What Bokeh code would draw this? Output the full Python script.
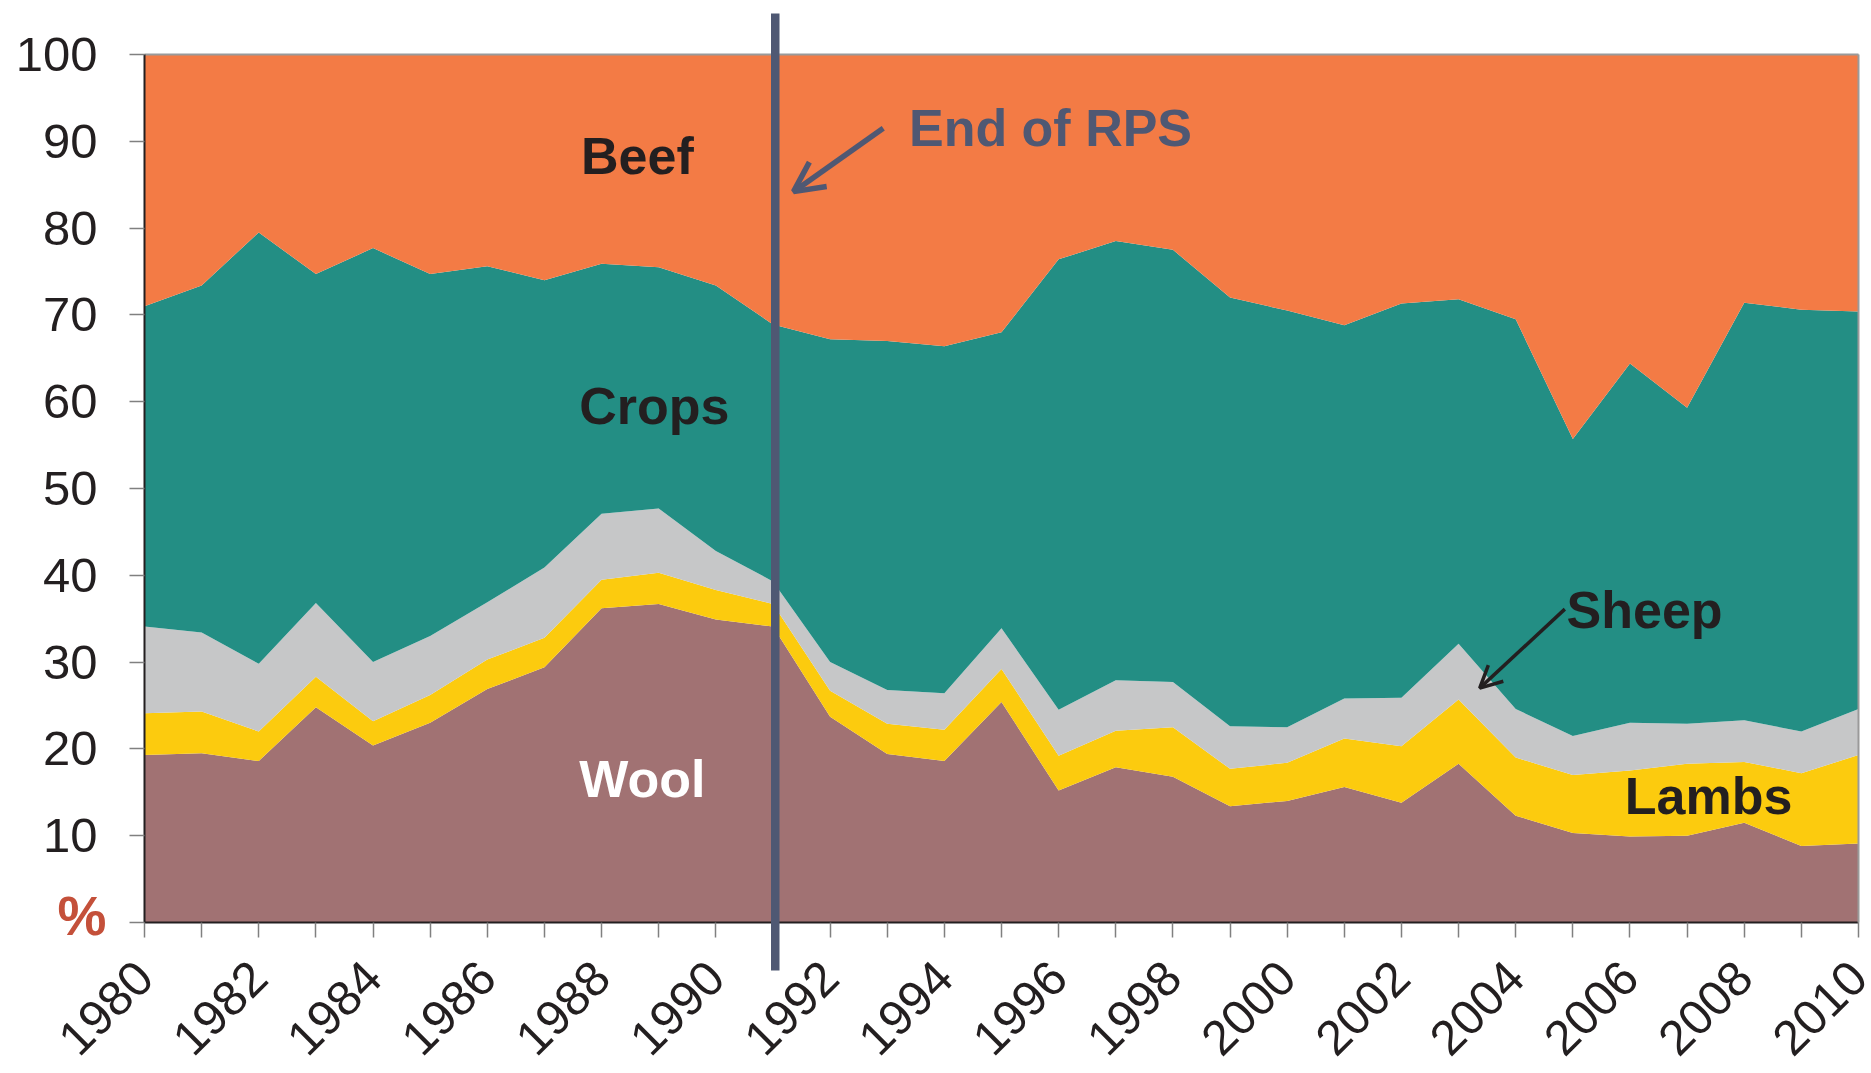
import math
from bokeh.plotting import figure
from bokeh.models import (Range1d, FixedTicker, Arrow, OpenHead, Label, ColumnDataSource,
                          LinearAxis)
from bokeh.embed import file_html
from bokeh.resources import INLINE

# ---------------- data (share of farm revenue, %) ----------------
years = list(range(1980, 2011))
wool = [19.3, 19.5, 18.6, 24.8, 20.4, 23.0, 26.9, 29.4, 36.2, 36.7, 34.9,
        34.1, 23.7, 19.4, 18.6, 25.4, 15.2, 17.9, 16.8, 13.4, 14.0,
        15.6, 13.8, 18.3, 12.3, 10.3, 9.9, 10.0, 11.5, 8.8, 9.1]
lambs = [4.8, 4.8, 3.4, 3.5, 2.8, 3.2, 3.4, 3.4, 3.3, 3.6, 3.4,
         2.6, 3.0, 3.5, 3.6, 3.8, 4.0, 4.2, 5.7, 4.3, 4.4,
         5.6, 6.5, 7.4, 6.7, 6.7, 7.6, 8.3, 7.0, 8.4, 10.2]
sheep = [10.0, 9.1, 7.8, 8.5, 6.8, 6.8, 6.6, 8.1, 7.6, 7.4, 4.5,
         2.6, 3.3, 3.9, 4.2, 4.7, 5.3, 5.8, 5.2, 4.9, 4.1,
         4.6, 5.6, 6.4, 5.6, 4.5, 5.5, 4.6, 4.8, 4.8, 5.3]
crops = [36.9, 40.0, 49.7, 37.9, 47.7, 41.7, 38.7, 33.1, 28.8, 27.8, 30.6,
         29.6, 37.2, 40.2, 40.0, 34.1, 51.9, 50.6, 49.8, 49.4, 48.0,
         43.0, 45.4, 39.7, 44.9, 34.2, 41.4, 36.4, 48.1, 48.6, 45.8]
beef = [29.0, 26.6, 20.5, 25.3, 22.3, 25.3, 24.4, 26.0, 24.1, 24.5, 26.6,
        31.1, 32.8, 33.0, 33.6, 32.0, 23.6, 21.5, 22.5, 28.0, 29.5,
        31.2, 28.7, 28.2, 30.5, 44.3, 35.6, 40.7, 28.6, 29.4, 29.6]

series_names = ["Wool", "Lambs", "Sheep", "Crops", "Beef"]
series_colors = ["#A17273", "#FCCB0E", "#C6C7C8", "#238E84", "#F37B45"]
y_ticks = list(range(0, 101, 10))
x_ticks = years
rps_end_year = 1991.04

source = ColumnDataSource(dict(year=years, Wool=wool, Lambs=lambs,
                               Sheep=sheep, Crops=crops, Beef=beef))

TXT = "#231f20"
FONT = "Liberation Sans"
GREY = "#9a9a9a"
X0, X1 = years[0], years[-1]

# The frame covers the whole canvas; axes are placed at data positions.
p = figure(width=1871, height=1073, output_backend="svg", toolbar_location=None,
           x_range=Range1d(1977.4796, 2010.2275), y_range=Range1d(-17.396, 106.221),
           min_border=0)
p.background_fill_color = "white"
p.border_fill_color = "white"
p.outline_line_color = None
p.xgrid.visible = False
p.ygrid.visible = False

p.varea_stack(stackers=series_names, x="year", color=series_colors, source=source)

# y axis at x = 1980
p.yaxis.fixed_location = X0
p.yaxis.ticker = FixedTicker(ticks=y_ticks)
p.yaxis.bounds = (0, 100)
p.yaxis.major_label_overrides = {0: ""}
p.yaxis.major_label_text_font = FONT
p.yaxis.major_label_text_font_size = "49px"
p.yaxis.major_label_text_color = TXT
p.yaxis.major_label_standoff = 32
p.yaxis.major_tick_out = 15
p.yaxis.major_tick_in = 0
p.yaxis.major_tick_line_color = "#808080"
p.yaxis.major_tick_line_width = 1.5
p.yaxis.minor_tick_line_color = None
p.yaxis.axis_line_color = TXT
p.yaxis.axis_line_width = 2

# x axis at y = 0
p.xaxis.fixed_location = 0
p.xaxis.bounds = (X0, X1)
p.xaxis.ticker = FixedTicker(ticks=x_ticks)
p.xaxis.major_label_overrides = {y: ("" if y % 2 else str(y)) for y in years}
p.xaxis.major_label_orientation = math.pi / 4
p.xaxis.major_label_text_font = FONT
p.xaxis.major_label_text_font_size = "49px"
p.xaxis.major_label_text_color = TXT
p.xaxis.major_label_standoff = 32
p.xaxis.major_tick_out = 15
p.xaxis.major_tick_in = 0
p.xaxis.major_tick_line_color = "#808080"
p.xaxis.major_tick_line_width = 1.5
p.xaxis.minor_tick_line_color = None
p.xaxis.axis_line_color = TXT
p.xaxis.axis_line_width = 2

# "%" unit marker at the foot of the y axis
pct_axis = LinearAxis(fixed_location=X0, ticker=FixedTicker(ticks=[0.7]),
                      major_label_overrides={0.7: "%"}, axis_line_color=None,
                      major_tick_line_color=None, minor_tick_line_color=None,
                      major_tick_out=0, major_tick_in=0, major_label_standoff=38,
                      major_label_text_font=FONT, major_label_text_font_style="bold",
                      major_label_text_font_size="55px", major_label_text_color="#C4503A")
p.add_layout(pct_axis, "left")

# grey top and right borders of the 0..100 box
top_axis = LinearAxis(fixed_location=100, bounds=(X0, X1), ticker=FixedTicker(ticks=[]),
                      axis_line_color=GREY, axis_line_width=2,
                      major_tick_line_color=None, minor_tick_line_color=None,
                      major_label_text_font_size="1px")
p.add_layout(top_axis, "above")
right_axis = LinearAxis(fixed_location=X1, bounds=(0, 100), ticker=FixedTicker(ticks=[]),
                        axis_line_color=GREY, axis_line_width=2,
                        major_tick_line_color=None, minor_tick_line_color=None,
                        major_label_text_font_size="1px")
p.add_layout(right_axis, "right")

# series labels
DY = 2.2
def lab(x, y, t, color=TXT):
    p.add_layout(Label(x=x, y=y + DY, text=t, text_align="left", text_baseline="alphabetic",
                       text_font=FONT, text_font_style="bold", text_font_size="52px",
                       text_color=color))

lab(1987.64, 86.07, "Beef")
lab(1987.61, 57.28, "Crops")
lab(1987.61, 14.33, "Wool", "white")
lab(2004.89, 33.79, "Sheep")
lab(2005.91, 12.38, "Lambs")
lab(1993.38, 89.29, "End of RPS", "#4F5873")

# End of RPS vertical bar
p.add_layout(Arrow(x_start=rps_end_year, y_start=-5.53, x_end=rps_end_year, y_end=104.72,
                   start=None, end=None, line_color="#4F5873", line_width=8.5,
                   line_cap="butt"))

# arrows
p.add_layout(Arrow(x_start=1992.93, y_start=91.5, x_end=1991.36, y_end=84.2,
                   line_color="#4F5873", line_width=5.5,
                   end=OpenHead(size=30, line_color="#4F5873", line_width=5.5)))
p.add_layout(Arrow(x_start=2004.86, y_start=36.1, x_end=2003.37, y_end=27.0,
                   line_color=TXT, line_width=3.5,
                   end=OpenHead(size=22, line_color=TXT, line_width=3.5)))

open("out.html", "w").write(file_html(p, INLINE))
